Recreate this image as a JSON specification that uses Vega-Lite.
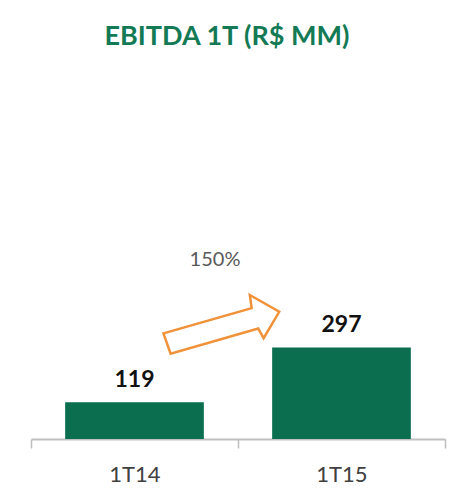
{
  "$schema": "https://vega.github.io/schema/vega-lite/v6.json",
  "description": "EBITDA 1T (R$ MM) - 1T14 vs 1T15",
  "autosize": "none",
  "width": 414,
  "height": 339,
  "padding": {"left": 31, "right": 11, "top": 100, "bottom": 61},
  "background": "white",
  "config": {"view": {"stroke": null}, "font": "Lato"},
  "title": {
    "text": "EBITDA  1T (R$ MM)",
    "fontSize": 27,
    "fontWeight": "bold",
    "color": "#137a55",
    "font": "Lato",
    "anchor": "middle",
    "dx": -11,
    "offset": 49
  },
  "datasets": {
    "ebitda": [
      {"period": "1T14", "value": 119},
      {"period": "1T15", "value": 297}
    ],
    "growth": [
      {"pos": 0.918, "arrow": 370, "label": "150%", "labelPos": 0.889, "labelY": 581}
    ]
  },
  "layer": [
    {
      "data": {"name": "ebitda"},
      "encoding": {
        "x": {
          "field": "period",
          "type": "nominal",
          "scale": {"paddingInner": 0, "paddingOuter": 0},
          "axis": {
            "title": null,
            "labelAngle": 0,
            "labelFontSize": 22,
            "labelColor": "#404040",
            "labelFont": "Lato",
            "labelPadding": 16,
            "tickBand": "extent",
            "tickSize": 9,
            "tickColor": "#bfbfbf",
            "tickWidth": 1.5,
            "domainColor": "#bfbfbf",
            "domainWidth": 2,
            "grid": false
          }
        },
        "y": {
          "field": "value",
          "type": "quantitative",
          "scale": {"domain": [0, 1100], "nice": false},
          "axis": null
        }
      },
      "layer": [
        {
          "mark": {"type": "bar", "color": "#0b6e4f", "width": {"band": 0.67}}
        },
        {
          "mark": {"type": "text", "fontSize": 23, "fontWeight": "bold", "color": "#111111", "baseline": "alphabetic", "dy": -15},
          "encoding": {
            "text": {"field": "value", "type": "quantitative"}
          }
        }
      ]
    },
    {
      "data": {"name": "growth"},
      "encoding": {
        "x": {"field": "pos", "type": "quantitative", "scale": {"domain": [0, 2], "nice": false}, "axis": null}
      },
      "layer": [
        {
          "mark": {
            "type": "point",
            "shape": "M -0.96 0.14 L 0.51 -0.28 L 0.48 -0.5 L 0.97 -0.22 L 0.71 0.22 L 0.62 0.06 L -0.84 0.48 Z",
            "size": 14400,
            "filled": false,
            "stroke": "#f0923a",
            "strokeWidth": 2.5,
            "opacity": 1
          },
          "encoding": {
            "y": {"field": "arrow", "type": "quantitative"}
          }
        },
        {
          "mark": {"type": "text", "fontSize": 20, "color": "#595959", "baseline": "middle"},
          "encoding": {
            "x": {"field": "labelPos", "type": "quantitative"},
            "y": {"field": "labelY", "type": "quantitative"},
            "text": {"field": "label"}
          }
        }
      ]
    }
  ],
  "resolve": {"scale": {"x": "independent"}}
}
